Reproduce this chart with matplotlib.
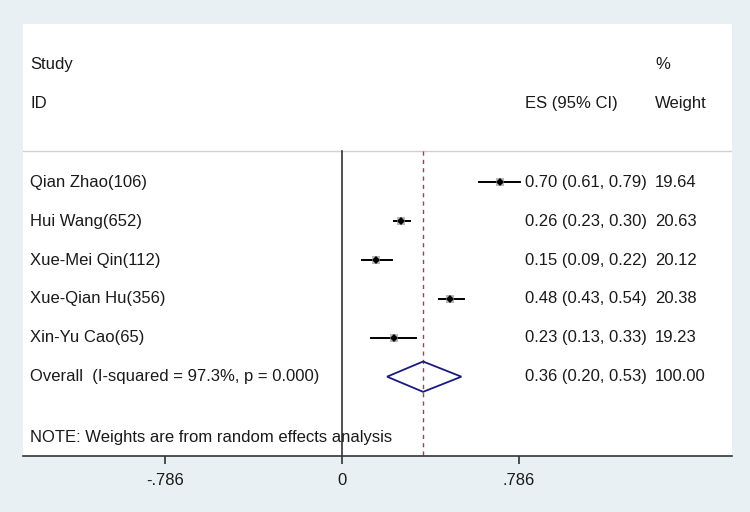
# forest plot: random effects meta-analysis
import matplotlib.pyplot as plt
import numpy as np

plt.rcParams['font.family'] = ['Liberation Sans', 'DejaVu Sans']

# исходные данные
studies = ["Qian Zhao(106)", "Hui Wang(652)", "Xue-Mei Qin(112)",
           "Xue-Qian Hu(356)", "Xin-Yu Cao(65)"]
es = [0.70, 0.26, 0.15, 0.48, 0.23]
ci_lo = [0.61, 0.23, 0.09, 0.43, 0.13]
ci_hi = [0.79, 0.30, 0.22, 0.54, 0.33]
weights = [19.64, 20.63, 20.12, 20.38, 19.23]
overall_label = "Overall  (I-squared = 97.3%, p = 0.000)"
overall_es, overall_lo, overall_hi = 0.36, 0.20, 0.53
tick_vals = [-0.786, 0, 0.786]
tick_labels = ["-.786", "0", ".786"]
note = "NOTE: Weights are from random effects analysis"

bg = "#e8f0f3"
fig = plt.figure(figsize=(7.5, 5.12), dpi=100, facecolor=bg)
ax = fig.add_axes([23/750, 56/512, 709/750, 432/512])
ax.set_facecolor("white")

xmin, xmax = -1.417, 1.732
ax.set_xlim(xmin, xmax)
ax.set_ylim(7.04, -4.07)  # rows go downward

fs = 12
tc = "#1a1a1a"
x_txt = -1.385
x_es = 0.813
x_w = 1.39

# заголовки
ax.text(x_txt, -3.04, "Study", fontsize=fs, va="center", color=tc)
ax.text(x_txt, -2.03, "ID", fontsize=fs, va="center", color=tc)
ax.text(x_es, -2.03, "ES (95% CI)", fontsize=fs, va="center", color=tc)
ax.text(x_w, -3.04, "%", fontsize=fs, va="center", color=tc)
ax.text(x_w, -2.03, "Weight", fontsize=fs, va="center", color=tc)
ax.axhline(-0.8, color="#d0d0d0", linewidth=1)

# линии: ноль и общий эффект
ax.plot([0, 0], [-0.8, 7.04], color="#333333", linewidth=1.2, zorder=2)
ax.plot([overall_es, overall_es], [-0.8, 7.04], color="#a0404a",
        linewidth=1, linestyle=(0, (3, 3)), zorder=2)

# исследования
for i in range(len(studies)):
    ax.text(x_txt, i, studies[i], fontsize=fs, va="center", color=tc)
    ax.plot([ci_lo[i], ci_hi[i]], [i, i], color="black", linewidth=1.4, zorder=3)
    ax.plot(es[i], i, marker="s", markersize=np.sqrt(weights[i]) * 1.15,
            color="#b8b8b8", markeredgewidth=0, zorder=3)
    ax.plot(es[i], i, marker="D", markersize=3.6, color="black",
            markeredgewidth=0, zorder=4)
    ax.text(x_es, i, "%.2f (%.2f, %.2f)" % (es[i], ci_lo[i], ci_hi[i]),
            fontsize=fs, va="center", color=tc)
    ax.text(x_w, i, "%.2f" % weights[i], fontsize=fs, va="center", color=tc)

# общий ромб
r = len(studies)
h = 0.39
ax.fill([overall_lo, overall_es, overall_hi, overall_es, overall_lo],
        [r, r - h, r, r + h, r], facecolor="none", edgecolor="#1a1a80",
        linewidth=1.3, zorder=4)
ax.text(x_txt, r, overall_label, fontsize=fs, va="center", color=tc)
ax.text(x_es, r, "%.2f (%.2f, %.2f)" % (overall_es, overall_lo, overall_hi),
        fontsize=fs, va="center", color=tc)
ax.text(x_w, r, "100.00", fontsize=fs, va="center", color=tc)

ax.text(x_txt, 6.57, note, fontsize=fs, va="center", color=tc)

# оси
for s in ["top", "left", "right"]:
    ax.spines[s].set_visible(False)
ax.spines["bottom"].set_linewidth(1.2)
ax.spines["bottom"].set_color("#333333")
ax.set_yticks([])
ax.set_xticks(tick_vals)
ax.set_xticklabels(tick_labels, fontsize=fs, color=tc)
ax.tick_params(axis="x", length=6, width=1.2, pad=6, color="#333333")

fig.savefig("out.png", dpi=100, facecolor=bg)
